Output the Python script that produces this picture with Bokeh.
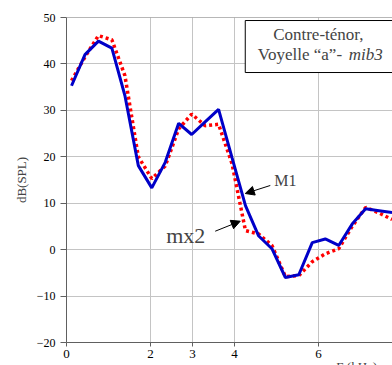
from bokeh.plotting import figure
from bokeh.models import (Range1d, FixedTicker, Label, BoxAnnotation, Arrow,
                          NormalHead, Span)
from bokeh.embed import file_html
from bokeh.resources import INLINE

# ---- data ----
freq_khz = [0.12, 0.44, 0.76, 1.08, 1.39, 1.71, 2.03, 2.35, 2.67, 2.98, 3.30,
            3.62, 3.94, 4.26, 4.57, 4.89, 5.21, 5.53, 5.85, 6.16, 6.48, 6.80,
            7.12, 7.44, 7.75]
m1_db = [35.3, 42.0, 44.9, 43.4, 33.2, 18.1, 13.3, 18.8, 27.2, 24.8, 27.5,
         30.2, 19.8, 9.5, 3.0, 0.2, -6.0, -5.4, 1.5, 2.3, 0.9, 5.5, 8.8, 8.4, 8.0]
mx2_db = [36.4, 41.5, 46.1, 45.2, 37.5, 20.0, 15.3, 18.0, 26.0, 29.2, 26.7,
          27.0, 18.5, 4.1, 3.4, 0.9, -5.8, -5.6, -2.6, -0.9, 0.2, 5.0, 9.1, 7.9, 6.5]
x_ticks = [0, 2, 3, 4, 6]
y_ticks = [-20, -10, 0, 10, 20, 30, 40, 50]
title_line1 = "Contre-ténor,"
title_line2 = "Voyelle \u201ca\u201d- "
title_note = "mib3"
x_label = "F (kHz)"
y_label = "dB(SPL)"

SERIF = "'Liberation Serif'"

p = figure(frame_width=326, frame_height=325, output_backend="svg",
           toolbar_location=None,
           x_range=Range1d(0, 7.76), y_range=Range1d(-20, 50),
           min_border_left=66, min_border_right=0, min_border_top=17,
           min_border_bottom=23)
p.outline_line_color = None
p.background_fill_color = "white"

# axes
p.xaxis.ticker = FixedTicker(ticks=x_ticks)
p.yaxis.ticker = FixedTicker(ticks=y_ticks)
for ax in (p.xaxis[0], p.yaxis[0]):
    ax.axis_line_color = "#606060"
    ax.major_tick_line_color = "#606060"
    ax.minor_tick_line_color = None
    ax.major_tick_in = 0
    ax.major_label_text_font = SERIF
    ax.major_label_text_color = "black"
p.xaxis.major_tick_out = 4
p.xaxis.major_label_standoff = 3
p.xaxis.major_label_text_font_size = "13px"
p.yaxis.major_tick_out = 6
p.yaxis.major_label_standoff = 5
p.yaxis.major_label_text_font_size = "12px"
p.yaxis.axis_label = y_label
p.yaxis.axis_label_text_font = SERIF
p.yaxis.axis_label_text_font_style = "normal"
p.yaxis.axis_label_text_font_size = "13px"
p.yaxis.axis_label_standoff = 5

# x axis title sits near the right end, partly below the visible window
# (label is centred on the frame's right edge; trailing no-break spaces
#  shift the visible characters to the left)
xa = p.xaxis[0]
xa.axis_label = x_label + "\u00a0" * 22
xa.axis_label_text_font = SERIF
xa.axis_label_text_font_style = "normal"
xa.axis_label_text_font_size = "13px"
xa.axis_label_standoff = -2
xa.axis_label_align = "end"

p.xgrid.grid_line_color = "#c4c4c4"
p.ygrid.grid_line_color = "#c4c4c4"
p.xgrid.ticker = FixedTicker(ticks=x_ticks[1:])

p.add_layout(Span(location=50, dimension="width", line_color="#707070",
                  line_width=1))

# series
p.line(freq_khz, mx2_db, line_color="#ff0000", line_width=3.5,
       line_dash="3 3")
p.line(freq_khz, m1_db, line_color="#0000c8", line_width=3)

# info box
p.add_layout(BoxAnnotation(left=4.255, bottom=38.15, top=49.35,
                           fill_color="white", fill_alpha=1.0,
                           line_color="black", line_width=1, line_alpha=1.0))
p.add_layout(Label(x=5.995, y=46.27, text=title_line1, text_align="center",
                   text_baseline="middle", text_font=SERIF,
                   text_font_size="17px"))
p.add_layout(Label(x=6.66, y=41.96, text=title_line2, text_align="right",
                   text_baseline="middle", text_font=SERIF,
                   text_font_size="17px"))
p.add_layout(Label(x=6.72, y=41.96, text=title_note, text_align="left",
                   text_baseline="middle", text_font=SERIF,
                   text_font_size="17px", text_font_style="italic"))

# curve annotations
p.add_layout(Label(x=4.946, y=14.98, text="M1", text_baseline="middle",
                   text_font=SERIF, text_font_size="16px"))
p.add_layout(Arrow(x_start=4.851, y_start=13.82, x_end=4.255, y_end=12.09,
                   line_color="black", line_width=1,
                   end=NormalHead(size=9, fill_color="black",
                                  line_color="black", line_width=1)))
p.add_layout(Label(x=2.372, y=3.13, text="mx2", text_baseline="middle",
                   text_font=SERIF, text_font_size="22px"))
p.add_layout(Arrow(x_start=3.54, y_start=3.97, x_end=4.136, y_end=6.13,
                   line_color="black", line_width=1,
                   end=NormalHead(size=9, fill_color="black",
                                  line_color="black", line_width=1)))

template = ("{% block postamble %}<style>html, body {overflow: hidden; "
            "margin: 0;}</style>{% endblock %}")
open("out.html", "w").write(file_html(p, INLINE, template=template))
